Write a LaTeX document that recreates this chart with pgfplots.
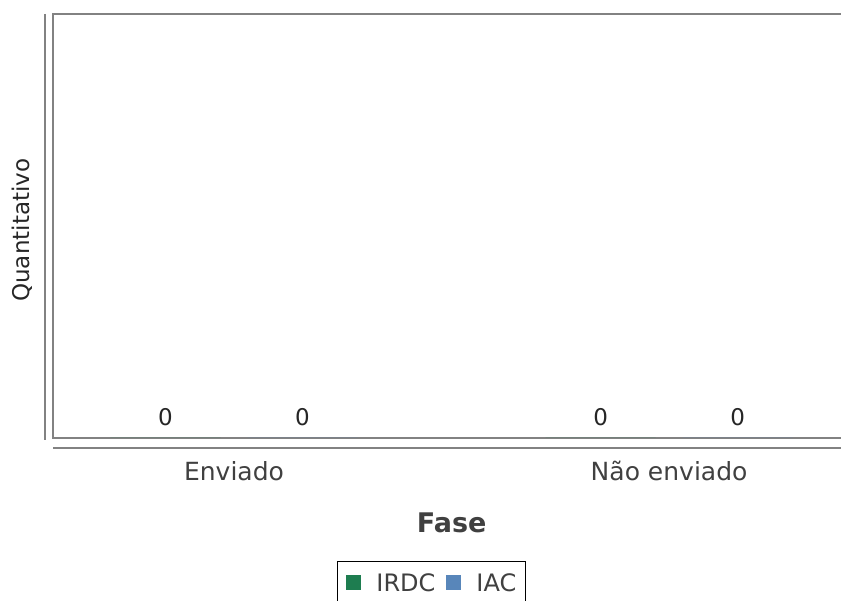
\documentclass[border=0pt]{standalone}
\usepackage{pgfplots}
\pgfplotsset{compat=1.18}
\usepackage{fontspec}
\setmainfont{DejaVu Sans}
\definecolor{irdc}{RGB}{30,125,80}
\definecolor{iac}{RGB}{88,134,186}
\definecolor{axgray}{RGB}{130,130,130}
\begin{document}
\begin{tikzpicture}[x=1pt,y=1pt]
\useasboundingbox (0,0) rectangle (841,601);
\begin{axis}[
  at={(53pt,163pt)}, anchor=south west,
  scale only axis,
  width=791pt, height=424pt,
  xmin=-0.416, xmax=1.402,
  ymin=0, ymax=1,
  /pgf/number format/assume math mode=true,
  ybar, bar width=110pt, ybar=27pt,
  axis line style={axgray, line width=1.6pt},
  major tick length=0pt,
  ytick=\empty,
  xtick={0,1}, xticklabels={Enviado, Não enviado},
  xticklabel style={anchor=base, yshift=-43pt, font=\fontsize{25}{28}\selectfont, text=black!75},
  ylabel={Quantitativo},
  ylabel style={at={(axis description cs:-0.039,0.49)}, anchor=center, rotate=0, font=\fontsize{23}{26}\selectfont, text=black!85},
  xlabel={Fase},
  xlabel style={at={(axis description cs:0.504,-0.2)}, anchor=center, font=\fontsize{27}{30}\selectfont\bfseries, text=black!75},
  nodes near coords,
  every node near coord/.append style={anchor=base, yshift=12pt, font=\fontsize{23}{26}\selectfont, text=black!85},
  legend columns=2,
  legend style={at={(axis description cs:0.359,-0.290)}, anchor=north west, draw=black, line width=1pt,
    font=\fontsize{24}{27}\selectfont, text=black!75, inner xsep=9pt, inner ysep=12pt,
    nodes={inner sep=0pt},
    /tikz/every even column/.append style={column sep=11pt},
    /tikz/every odd column/.append style={column sep=15pt}},
  legend image code/.code={\fill[#1] (0pt,-7pt) rectangle (15pt,8pt);},
]
\addplot[fill=irdc, draw=none] coordinates {(0,0) (1,0)};
\addplot[fill=iac, draw=none] coordinates {(0,0) (1,0)};
\legend{IRDC, IAC}
\end{axis}
\draw[axgray, line width=1.6pt] (45,587) -- (45,161);
\draw[axgray, line width=1.6pt] (53,153) -- (845,153);
\end{tikzpicture}
\end{document}
